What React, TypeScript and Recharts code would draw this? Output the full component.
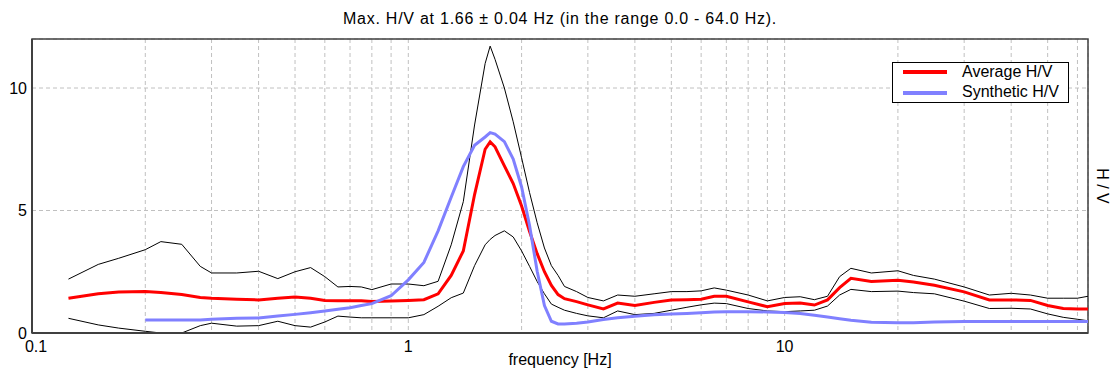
import React from "react";
import {
  LineChart,
  Line,
  XAxis,
  YAxis,
  CartesianGrid,
  ReferenceArea,
} from "recharts";

// frequency grid [Hz]
const FREQ = [
  0.125, 0.15, 0.17, 0.2, 0.22, 0.25, 0.28, 0.3, 0.35, 0.4, 0.45, 0.5, 0.55, 0.6, 0.65, 0.7, 0.75, 0.8, 0.9,
  1.0, 1.1, 1.2, 1.3, 1.4, 1.5, 1.6, 1.65, 1.7, 1.8, 1.9, 2.0, 2.1, 2.2, 2.3, 2.4, 2.5, 2.6, 2.8, 3.0, 3.3, 3.6,
  4, 4.5, 5, 5.5, 6, 6.5, 7, 8, 9, 10, 11, 12, 13, 14, 15, 17, 20, 22, 25, 30, 35, 40, 45, 50, 55, 60, 64,
];

// average H/V + std band
const AVERAGE = [
  1.42, 1.6, 1.67, 1.69, 1.65, 1.57, 1.45, 1.42, 1.38, 1.35, 1.42, 1.47, 1.42, 1.33, 1.32, 1.32, 1.32, 1.29, 1.31,
  1.33, 1.36, 1.6, 2.35, 3.35, 5.65, 7.5, 7.8, 7.6, 6.82, 6.1, 5.18, 4.14, 3.24, 2.5, 1.94, 1.57, 1.4, 1.28, 1.15, 0.98, 1.22,
  1.12, 1.25, 1.35, 1.36, 1.38, 1.5, 1.5, 1.27, 1.07, 1.2, 1.22, 1.14, 1.35, 1.85, 2.23, 2.1, 2.15, 2.08, 1.95, 1.68, 1.35, 1.35, 1.33, 1.12, 1.0, 0.98, 0.98,
];
const UPPER = [
  2.2, 2.8, 3.05, 3.4, 3.73, 3.62, 2.72, 2.45, 2.45, 2.52, 2.22, 2.5, 2.67, 2.3, 1.88, 1.9, 1.88, 1.77, 2.0,
  2.0, 1.93, 2.11, 3.6, 5.36, 8.49, 11.0, 11.71, 11.17, 10.0, 8.62, 7.15, 5.73, 4.5, 3.47, 2.75, 2.35, 1.9, 1.69, 1.45, 1.31, 1.55,
  1.5, 1.6, 1.69, 1.69, 1.72, 1.84, 1.75, 1.55, 1.31, 1.45, 1.48, 1.36, 1.5, 2.3, 2.64, 2.45, 2.54, 2.35, 2.2, 1.88, 1.55, 1.62, 1.55, 1.42, 1.42, 1.42, 1.5,
];
const LOWER = [
  0.6, 0.33, 0.2, 0.07, 0.0, 0.0, 0.3, 0.4, 0.28, 0.3, 0.48, 0.3, 0.24, 0.45, 0.69, 0.65, 0.62, 0.62, 0.62,
  0.62, 0.75, 1.09, 1.44, 1.63, 2.75, 3.6, 3.82, 3.98, 4.17, 3.92, 3.35, 2.72, 2.1, 1.6, 1.18, 1.05, 0.93, 0.8, 0.7, 0.62, 0.9,
  0.75, 0.8, 0.93, 1.05, 1.15, 1.22, 1.2, 1.0, 0.9, 0.87, 0.9, 0.93, 1.1, 1.55, 1.78, 1.69, 1.71, 1.65, 1.6, 1.3, 1.0, 1.01, 0.98, 0.78, 0.64, 0.56, 0.5,
];
// synthetic curve starts at 0.2 Hz
const SYNTHETIC = [
  null, null, null, 0.53, 0.53, 0.53, 0.53, 0.56, 0.6, 0.61, 0.69, 0.76, 0.83, 0.9, 0.97, 1.03, 1.12, 1.2, 1.52,
  2.17, 2.88, 4.17, 5.54, 6.79, 7.66, 8.0, 8.18, 8.12, 7.81, 7.1, 5.96, 4.39, 2.52, 1.12, 0.48, 0.37, 0.37, 0.4, 0.45, 0.55, 0.62,
  0.68, 0.74, 0.78, 0.8, 0.83, 0.86, 0.87, 0.87, 0.86, 0.84, 0.8, 0.72, 0.65, 0.58, 0.52, 0.44, 0.42, 0.42, 0.45, 0.47, 0.47, 0.47, 0.47, 0.47, 0.47, 0.47, 0.47,
];

const X_TICKS = [
  0.1, 0.2, 0.3, 0.4, 0.5, 0.6, 0.7, 0.8, 0.9, 1, 2, 3, 4, 5, 6, 7, 8, 9, 10, 20, 30, 40, 50, 60,
];
const X_LABELS = [0.1, 1, 10];
const Y_TICKS = [0, 5, 10];

const LEGEND = [
  { name: "Average H/V", color: "#ff0000" },
  { name: "Synthetic H/V", color: "#8080ff" },
];

const FONT = '"Liberation Sans", Arial, sans-serif';

const data = FREQ.map((f, i) => ({
  f,
  avg: AVERAGE[i],
  upper: UPPER[i],
  lower: LOWER[i],
  synth: SYNTHETIC[i],
}));

// only decades get a label; the first one sits a bit right of the corner
const FreqTick = (props: any) => {
  const { x, y, payload } = props;
  const v = payload.value;
  if (!X_LABELS.includes(v)) return null;
  return (
    <text
      x={x + (v === 0.1 ? 4 : 0)}
      y={y}
      dy="0.71em"
      textAnchor="middle"
      fontSize={16}
      fontFamily={FONT}
      fill="#000"
    >
      {String(v)}
    </text>
  );
};

export default function App() {
  return (
    <div
      style={{
        position: "absolute",
        left: 0,
        top: 0,
        width: 1115,
        height: 376,
        background: "#fff",
        fontFamily: FONT,
        color: "#000",
      }}
    >
      <LineChart
        width={1115}
        height={376}
        data={data}
        margin={{ top: 39, right: 27, bottom: 0, left: 0 }}
      >
        <CartesianGrid stroke="#c0c0c0" strokeDasharray="4 3" />
        <XAxis
          dataKey="f"
          type="number"
          scale="log"
          domain={[0.1, 64]}
          allowDataOverflow
          ticks={X_TICKS}
          interval={0}
          height={43}
          tick={<FreqTick />}
          tickLine={false}
          tickSize={0}
          tickMargin={8}
          axisLine={{ stroke: "#404040", strokeWidth: 2 }}
        />
        <YAxis
          type="number"
          domain={[0, 12]}
          allowDataOverflow
          ticks={Y_TICKS}
          width={32}
          tick={{ fontSize: 16, fill: "#000", fontFamily: FONT }}
          tickLine={false}
          tickSize={0}
          tickMargin={5}
          axisLine={{ stroke: "#404040", strokeWidth: 2 }}
        />
        <ReferenceArea
          x1={0.1}
          x2={64}
          y1={0}
          y2={12}
          stroke="#404040"
          strokeWidth={1.5}
          fillOpacity={0}
          strokeOpacity={1}
        />
        <Line dataKey="upper" stroke="#000" strokeWidth={1} dot={false} isAnimationActive={false} />
        <Line dataKey="lower" stroke="#000" strokeWidth={1} dot={false} isAnimationActive={false} />
        <Line dataKey="avg" stroke="#ff0000" strokeWidth={3} dot={false} isAnimationActive={false} />
        <Line dataKey="synth" stroke="#8080ff" strokeWidth={3} dot={false} isAnimationActive={false} />
      </LineChart>

      {/* title */}
      <div
        style={{
          position: "absolute",
          left: 0,
          width: 1120,
          top: 10.5,
          textAlign: "center",
          fontSize: 16,
          lineHeight: "16px",
          letterSpacing: 0.75,
          whiteSpace: "nowrap",
        }}
      >
        Max. H/V at 1.66 ± 0.04 Hz (in the range 0.0 - 64.0 Hz).
      </div>

      {/* x label */}
      <div
        style={{
          position: "absolute",
          left: 0,
          width: 1120,
          top: 352,
          textAlign: "center",
          fontSize: 16,
          lineHeight: "16px",
          whiteSpace: "nowrap",
        }}
      >
        frequency [Hz]
      </div>

      {/* y label on the right */}
      <div
        style={{
          position: "absolute",
          left: 1101.5,
          top: 186,
          fontSize: 16,
          lineHeight: "16px",
          whiteSpace: "nowrap",
          transform: "translate(-50%, -50%) rotate(90deg)",
        }}
      >
        H / V
      </div>

      {/* legend */}
      <div
        style={{
          position: "absolute",
          left: 892,
          top: 62,
          width: 177,
          height: 41,
          boxSizing: "border-box",
          border: "1px solid #000",
          background: "#fff",
        }}
      >
        {LEGEND.map((item, i) => (
          <React.Fragment key={item.name}>
            <div
              style={{
                position: "absolute",
                left: 10,
                top: 7 + i * 20.5,
                width: 44,
                height: 4,
                background: item.color,
              }}
            />
            <div
              style={{
                position: "absolute",
                left: 69,
                top: 0.5 + i * 20.5,
                fontSize: 16,
                lineHeight: "16px",
                whiteSpace: "nowrap",
              }}
            >
              {item.name}
            </div>
          </React.Fragment>
        ))}
      </div>
    </div>
  );
}
